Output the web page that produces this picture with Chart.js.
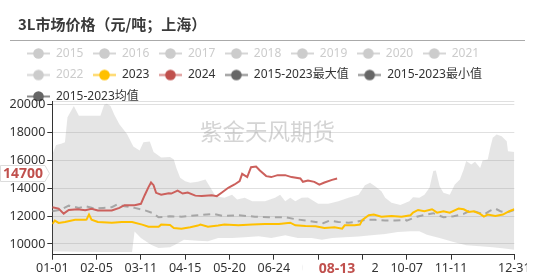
<!DOCTYPE html>
<html>
<head>
<meta charset="utf-8">
<script src="https://cdn.jsdelivr.net/npm/chart.js@4.4.1/dist/chart.umd.min.js"></script>
<style>
body{margin:0;background:#fff;}
#wrap{position:relative;width:527px;height:280px;overflow:hidden;}
#title{position:absolute;left:18px;top:13px;font:bold 15px "Noto Sans CJK SC",sans-serif;color:#3a3a3a;white-space:nowrap;}
#rule{position:absolute;left:10px;top:40px;width:515px;height:1px;background:#aaa;}
canvas{position:absolute;left:0;top:0;}
</style>
</head>
<body>
<div id="wrap">
  <canvas id="myChart" width="535" height="280"></canvas>
  <div id="title">3L市场价格（元/吨；上海）</div>
  <div id="rule"></div>
</div>
<script>
// ---- dati ----
var hiddenYears = ['2015', '2016', '2017', '2018', '2019', '2020', '2021', '2022'];

var dates2024 = ['01-01','01-06','01-10','01-14','01-21','01-27','02-01','02-06','02-17','02-23','02-27','03-06','03-11','03-14','03-17','03-19','03-21','03-23','03-27','04-02','04-04','04-09','04-13','04-17','04-23','04-28','05-06','05-10','05-14','05-19','05-24','05-28','05-30','06-03','06-06','06-10','06-13','06-18','06-22','06-27','07-03','07-08','07-15','07-17','07-21','07-26','07-30','08-03','08-09','08-13'];
var values2024 = [12640,12540,12180,12440,12490,12420,12520,12400,12400,12590,12780,12780,12880,13500,14080,14410,14220,13670,13540,13640,13620,13830,13620,13690,13470,13450,13500,13430,13690,14030,14270,14510,15030,14800,15510,15560,15270,14870,14800,14940,14940,14800,14700,14460,14550,14460,14260,14410,14600,14700];

var dates2023 = ['01-01','01-03','01-06','01-11','01-19','01-27','01-28','01-30','02-01','02-06','02-17','02-25','03-04','03-12','03-17','03-25','03-27','04-03','04-06','04-12','04-19','04-25','04-27','05-03','05-11','05-16','05-27','06-07','06-17','06-28','07-07','07-11','07-19','07-27','08-03','08-11','08-17','08-19','08-27','08-31','09-02','09-07','09-11','09-17','09-25','10-03','10-10','10-12','10-16','10-21','10-27','10-31','11-05','11-10','11-17','11-21','11-25','11-29','12-04','12-07','12-10','12-16','12-22','12-27','12-31'];
var values2023 = [11440,11680,11510,11580,11730,11730,11750,12110,11750,11580,11530,11580,11580,11390,11240,11240,11390,11370,11150,11100,11200,11320,11390,11240,11320,11390,11340,11390,11440,11440,11530,11340,11290,11270,11150,11200,11100,11340,11340,11390,11730,12060,12110,11960,12010,11960,12060,12250,12440,12350,12490,12250,12350,12250,12540,12490,12300,12350,12160,11960,12110,12010,12110,12350,12490];

var datesMean = ['01-01','01-08','01-14','01-22','01-27','02-04','02-10','02-17','02-21','02-27','03-06','03-14','03-20','03-25','03-30','04-03','04-12','04-25','05-07','05-15','05-27','06-09','06-20','07-03','07-11','07-19','07-27','08-02','08-07','08-14','08-22','08-28','09-04','09-12','09-20','09-28','10-06','10-07','10-15','10-20','10-28','11-05','11-13','11-21','11-26','12-01','12-07','12-12','12-16','12-20','12-25','12-31'];
var valuesMean = [12350,12470,12750,12590,12710,12540,12590,12640,12830,12710,12590,12420,12230,11920,11940,11990,11960,12060,12160,12010,12060,11960,11920,11920,11780,11680,11580,11490,11680,11580,11530,11580,11730,11730,11680,11680,11730,11680,11960,12060,12210,11920,11990,12160,12390,12300,12110,12390,12540,12350,12250,12440];

var datesMax = ['01-01','01-04','01-08','01-11','01-13','01-18','01-22','02-02','02-08','02-11','02-13','02-16','02-19','02-23','02-29','03-05','03-10','03-13','03-18','03-21','03-27','04-03','04-06','04-08','04-11','04-15','04-19','04-25','05-01','05-05','05-09','05-16','05-22','05-26','06-01','06-07','06-17','06-25','06-29','07-03','07-07','07-11','07-16','07-21','07-29','08-06','08-14','08-22','08-30','09-04','09-08','09-12','09-17','09-20','09-25','10-02','10-09','10-12','10-17','10-21','10-25','10-28','10-30','11-02','11-05','11-10','11-14','11-18','11-21','11-23','11-27','11-30','12-04','12-06','12-10','12-12','12-14','12-17','12-21','12-25','12-26','12-31'];
var valuesMax = [16400,17100,17200,17300,19100,19900,19200,19200,19200,20000,20070,19900,19270,18600,17900,17000,16700,17300,17350,16600,16200,16250,16060,15460,14750,14500,14400,14460,14620,14030,13430,13310,13540,13190,13310,13070,13070,13310,13540,13070,13310,13070,13310,13340,12880,12880,13070,13310,13540,14220,14390,14150,13790,13310,12950,12800,13070,13360,13310,13540,14030,15230,15270,14150,13670,13540,14270,14620,15340,15950,15700,15900,15460,15990,16060,16900,17620,17860,17740,17380,16660,16610];

var datesMin = ['01-01','01-21','02-10','03-04','03-06','03-11','03-19','03-25','04-03','04-07','04-14','04-25','05-03','05-11','05-22','06-01','06-12','06-22','07-03','07-13','07-24','08-01','08-09','08-19','08-30','09-09','09-20','09-30','10-10','10-17','10-23','11-02','11-13','11-23','12-04','12-14','12-25','12-31'];
var valuesMin = [9480,9450,9420,9420,10900,10430,9950,9710,9760,9950,10310,10240,10190,10430,10430,10480,10550,10430,10620,10430,10430,10310,10430,10480,10530,10620,10720,10860,10910,10910,10670,10430,10140,9900,9830,9760,9660,9590];

var xTickDates = ['01-01','02-05','03-11','04-15','05-20','06-24','07-29','09-02','10-07','11-11','12-31'];
var yTickValues = [10000, 12000, 14000, 16000, 18000, 20000];
var yMin = 9230;
var yMax = 20240;
var currentDate = '08-13';
var currentValue = 14700;

// ---- utilita ----
var monthStart = [0, 31, 60, 91, 121, 152, 182, 213, 244, 274, 305, 335];
function dayOfYear(s) {
  var p = s.split('-');
  return monthStart[parseInt(p[0], 10) - 1] + parseInt(p[1], 10) - 1;
}
function toPoints(dates, values) {
  var out = [];
  for (var i = 0; i < dates.length; i++) {
    out.push({x: dayOfYear(dates[i]), y: values[i]});
  }
  return out;
}
var tickLabelByDay = {};
xTickDates.forEach(function(d) { tickLabelByDay[dayOfYear(d)] = d; });

function legendIcon(lineColor, dotColor) {
  var c = document.createElement('canvas');
  c.width = 23; c.height = 13;
  var g = c.getContext('2d');
  g.strokeStyle = lineColor; g.lineWidth = 2;
  g.beginPath(); g.moveTo(0, 6.5); g.lineTo(23, 6.5); g.stroke();
  g.fillStyle = dotColor;
  g.beginPath(); g.arc(11.5, 6.5, 5.3, 0, Math.PI * 2); g.fill();
  return c;
}

var FONT = '"Noto Sans", "Noto Sans CJK SC", sans-serif';
var LEGEND_SHIFT = 17.5;

var legendItems = [];
hiddenYears.forEach(function(y) {
  legendItems.push({text: y, fontColor: '#cccccc', pointStyle: legendIcon('#d6d6d6', '#cccccc')});
});
legendItems.push({text: '2023', fontColor: '#333333', pointStyle: legendIcon('#ffd04a', '#ffc000')});
legendItems.push({text: '2024', fontColor: '#333333', pointStyle: legendIcon('#d98a88', '#c0504d')});
legendItems.push({text: '2015-2023最大值', fontColor: '#333333', pointStyle: legendIcon('#8c8c8c', '#666666')});
legendItems.push({text: '2015-2023最小值', fontColor: '#333333', pointStyle: legendIcon('#8c8c8c', '#666666')});
legendItems.push({text: '2015-2023均值', fontColor: '#333333', pointStyle: legendIcon('#8c8c8c', '#666666')});

//=========== plugins ===========
var legendTweak = {
  id: 'legendTweak',
  beforeInit: function(chart) {
    if (!chart.legend) return;
    var lg = chart.legend;
    var origFit = lg.fit;
    lg.fit = function() {
      origFit.call(this);
      this.height = 63.3;
    };
    var origDraw = lg.draw;
    lg.draw = function() {
      this.left += LEGEND_SHIFT;
      origDraw.call(this);
      this.left -= LEGEND_SHIFT;
    };
  }
};

var watermark = {
  id: 'watermark',
  beforeDatasetsDraw: function(chart) {
    var ctx = chart.ctx;
    ctx.save();
    ctx.font = '22.5px "Noto Sans CJK SC", sans-serif';
    ctx.fillStyle = 'rgba(160,160,160,0.45)';
    ctx.textAlign = 'center';
    ctx.textBaseline = 'middle';
    ctx.fillText('紫金天风期货', 267.5, 131);
    ctx.restore();
  }
};

var markers = {
  id: 'markers',
  afterDraw: function(chart) {
    var ctx = chart.ctx;
    var ys = chart.scales.y, xs = chart.scales.x;
    ctx.save();
    // etichetta valore attuale
    var py = ys.getPixelForValue(currentValue) - 5;
    ctx.beginPath();
    ctx.moveTo(0.5, py - 8);
    ctx.lineTo(45, py - 8);
    ctx.lineTo(49.5, py);
    ctx.lineTo(45, py + 8);
    ctx.lineTo(0.5, py + 8);
    ctx.closePath();
    ctx.fillStyle = '#fff';
    ctx.fill();
    ctx.strokeStyle = '#dcdcdc';
    ctx.lineWidth = 1;
    ctx.stroke();
    ctx.font = 'bold 14px ' + FONT;
    ctx.fillStyle = '#c0504d';
    ctx.textAlign = 'center';
    ctx.textBaseline = 'middle';
    ctx.fillText(String(currentValue), 23, py + 0.5);
    // etichetta data attuale
    var px = xs.getPixelForValue(dayOfYear(currentDate));
    ctx.fillStyle = '#fff';
    ctx.fillRect(px - 35, 260.5, 70, 20);
    ctx.fillStyle = '#c0504d';
    ctx.fillText(currentDate, px, 269);
    ctx.restore();
  }
};

//=========== chart ===========
var ctx = document.getElementById('myChart').getContext('2d');
var chart = new Chart(ctx, {
  type: 'line',
  data: {
    datasets: [{
      label: '2024',
      data: toPoints(dates2024, values2024),
      borderColor: '#cc605c',
      borderWidth: 2,
      pointRadius: 0,
      fill: false
    }, {
      label: '2023',
      data: toPoints(dates2023, values2023),
      borderColor: '#ffc000',
      borderWidth: 2,
      pointRadius: 0,
      fill: false
    }, {
      label: '2015-2023均值',
      data: toPoints(datesMean, valuesMean),
      borderColor: '#a6a6a6',
      borderWidth: 2,
      borderDash: [7, 5],
      pointRadius: 0,
      fill: false
    }, {
      label: '2015-2023最大值',
      data: toPoints(datesMax, valuesMax),
      borderWidth: 0,
      borderColor: 'rgba(0,0,0,0)',
      backgroundColor: 'rgba(150,150,150,0.25)',
      pointRadius: 0,
      fill: {target: 4}
    }, {
      label: '2015-2023最小值',
      data: toPoints(datesMin, valuesMin),
      borderWidth: 0,
      borderColor: 'rgba(0,0,0,0)',
      pointRadius: 0,
      fill: false
    }]
  },
  options: {
    responsive: false,
    animation: false,
    layout: {padding: {left: 0, top: 38, right: 20.7, bottom: 0}},
    elements: {line: {tension: 0}},
    plugins: {
      tooltip: {enabled: false},
      legend: {
        position: 'top',
        align: 'start',
        onClick: null,
        labels: {
          usePointStyle: true,
          pointStyleWidth: 23,
          padding: 9.5,
          color: '#333',
          font: {size: 12, family: FONT},
          generateLabels: function() {
            return legendItems.map(function(it, i) {
              return {
                text: it.text,
                fontColor: it.fontColor,
                pointStyle: it.pointStyle,
                hidden: false,
                lineWidth: 0,
                strokeStyle: 'rgba(0,0,0,0)',
                fillStyle: 'rgba(0,0,0,0)',
                index: i
              };
            });
          }
        }
      }
    },
    scales: {
      x: {
        type: 'linear',
        min: 0,
        max: 365,
        afterBuildTicks: function(scale) {
          scale.ticks = xTickDates.map(function(d) { return {value: dayOfYear(d)}; });
        },
        afterFit: function(scale) { scale.height = 25.3; },
        grid: {drawOnChartArea: false, drawTicks: true, tickLength: 5, tickColor: '#333'},
        border: {color: '#333', width: 1},
        ticks: {
          autoSkip: false,
          maxRotation: 0,
          padding: 1,
          color: '#333',
          font: {size: 12.5, family: FONT},
          callback: function(v) { return tickLabelByDay[v] || ''; }
        }
      },
      y: {
        min: yMin,
        max: yMax,
        afterBuildTicks: function(scale) {
          scale.ticks = yTickValues.concat([yMax]).map(function(v) { return {value: v}; });
        },
        afterFit: function(scale) { scale.width = 52.3; },
        grid: {
          color: '#e0e0e0',
          tickLength: 5,
          tickColor: function(c) { return c.tick && c.tick.value === yMax ? 'rgba(0,0,0,0)' : '#333'; }
        },
        border: {color: '#333', width: 1},
        ticks: {
          padding: 2,
          color: '#333',
          font: {size: 12.5, family: FONT},
          callback: function(v) { return v % 2000 === 0 ? String(v) : ''; }
        }
      }
    }
  },
  plugins: [legendTweak, watermark, markers]
});
</script>
</body>
</html>
